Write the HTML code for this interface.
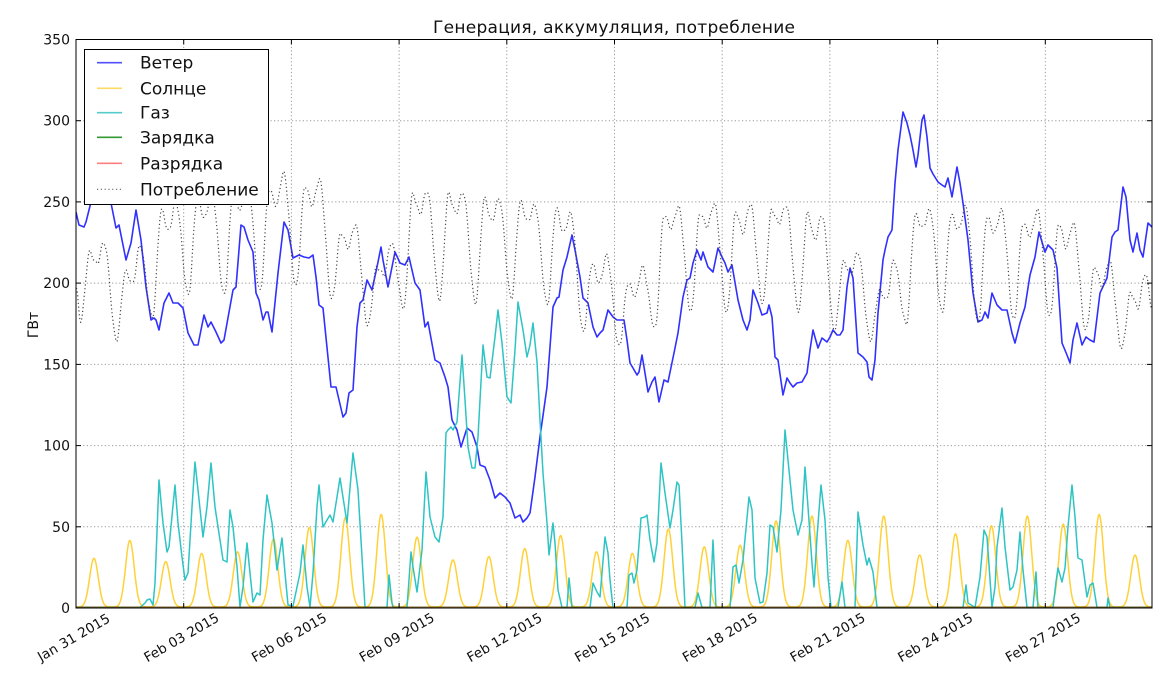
<!DOCTYPE html>
<html><head><meta charset="utf-8"><style>
html,body{margin:0;padding:0;background:#fff;}
svg{display:block;}
text{font-family:"DejaVu Sans","Liberation Sans",sans-serif;fill:#111;}
</style></head><body>
<svg id="s" width="1174" height="675" viewBox="0 0 1174 675" xmlns="http://www.w3.org/2000/svg">
<defs><clipPath id="cp"><rect x="76" y="39.5" width="1076" height="568.5"/></clipPath></defs>
<rect width="1174" height="675" fill="#fff"/>
<text x="614" y="33" font-size="17" text-anchor="middle" textLength="362" lengthAdjust="spacing">Генерация, аккумуляция, потребление</text>
<g stroke="#999" stroke-width="1" stroke-dasharray="1.2,2.4" fill="none">
<line x1="183.7" y1="39.5" x2="183.7" y2="608"/><line x1="291.4" y1="39.5" x2="291.4" y2="608"/><line x1="399.1" y1="39.5" x2="399.1" y2="608"/><line x1="506.8" y1="39.5" x2="506.8" y2="608"/><line x1="614.5" y1="39.5" x2="614.5" y2="608"/><line x1="722.2" y1="39.5" x2="722.2" y2="608"/><line x1="829.9" y1="39.5" x2="829.9" y2="608"/><line x1="937.6" y1="39.5" x2="937.6" y2="608"/><line x1="1045.3" y1="39.5" x2="1045.3" y2="608"/>
<line x1="76" y1="526.8" x2="1152" y2="526.8"/><line x1="76" y1="445.6" x2="1152" y2="445.6"/><line x1="76" y1="364.4" x2="1152" y2="364.4"/><line x1="76" y1="283.1" x2="1152" y2="283.1"/><line x1="76" y1="201.9" x2="1152" y2="201.9"/><line x1="76" y1="120.7" x2="1152" y2="120.7"/>
</g>
<g clip-path="url(#cp)" fill="none" stroke-linejoin="round">
<polyline stroke="#3030ff" stroke-width="1.6" points="76,212 79,225 84,227 86,222 89,210 92,198 97,182 102,176 107,190 111,203 116,228 119,225 126,260 131,243 136,210 141,240 146,287 151,320 154,318 156,320 159,330 164,303 169,293 173,303 178,303 183,308 188,333 194,345 198,345 204,315 208,327 211,322 216,332 221,343 224,340 233,290 236,287 241,225 244,227 248,240 253,252 256,293 259,300 263,320 266,312 268,312 272,332 278,273 284,222 288,230 293,258 299,255 304,257 309,258 313,255 316,277 319,305 323,308 331,387 336,387 343,417 346,413 349,393 353,390 357,327 360,303 363,300 367,280 372,290 377,267 381,247 383,260 388,287 390,277 395,252 400,263 405,265 409,257 415,283 420,290 425,327 428,322 435,360 440,363 445,377 448,387 452,420 457,430 461,447 467,428 472,432 477,447 480,465 485,467 490,480 495,498 500,493 505,497 510,503 515,518 520,515 523,522 527,518 530,513 535,477 540,437 547,387 553,307 557,298 559,297 563,270 567,257 572,235 575,250 580,277 583,298 588,303 593,327 597,337 600,333 603,330 608,310 613,317 617,320 622,320 624,320 627,340 630,363 633,368 637,375 639,372 642,355 645,373 648,392 652,382 655,377 659,402 664,380 668,382 674,353 678,333 683,297 687,280 690,278 693,263 697,250 701,260 703,252 708,267 713,272 718,248 722,257 725,263 728,272 732,265 738,300 743,320 747,330 750,320 753,290 758,303 762,315 767,313 769,305 772,317 775,357 778,360 783,395 787,378 790,383 793,387 797,383 802,382 807,373 810,350 813,330 818,348 822,338 827,342 830,337 833,330 837,335 840,335 843,330 847,287 850,268 853,278 858,353 863,357 867,362 869,377 872,380 875,360 878,313 883,260 885,250 888,237 892,230 895,183 898,150 903,112 907,123 910,135 913,150 916,167 918,155 922,120 924,115 927,137 930,168 933,174 938,182 942,185 945,187 948,178 952,197 957,167 960,183 963,203 968,240 973,293 978,322 982,320 985,312 988,318 992,293 997,305 1002,310 1007,310 1012,333 1015,343 1020,323 1025,307 1030,275 1035,257 1039,232 1045,252 1048,245 1053,250 1057,268 1062,343 1067,355 1070,363 1073,340 1077,323 1082,345 1086,337 1090,340 1094,342 1100,293 1107,278 1112,237 1115,232 1118,230 1123,187 1126,197 1130,240 1133,252 1137,233 1140,250 1143,257 1148,223 1152,227"/>
<path id="solar" stroke="#ffcc22" stroke-width="1.5" stroke-opacity="0.9" d=""/>
<polyline stroke="#2ec4c4" stroke-width="1.5" points="76,607.5 140,607.5 145,603 147,600 150,599 153,605 155,583 159,480 163,523 167,552 169,547 175,485 178,523 182,557 185,580 188,573 192,507 195,462 198,490 203,537 207,507 211,463 215,507 220,540 223,560 227,562 230,510 233,527 237,567 240,607 243,587 247,543 250,573 253,602 257,593 260,595 263,540 267,495 272,523 277,570 282,538 285,573 288,605 293,606 300,573 303,545 307,587 310,607 313,573 317,507 319,485 323,527 327,520 330,515 333,522 337,497 340,478 347,523 353,453 358,490 362,557 365,607.5 387,607.5 389,575 392,603 393,607.5 407,607.5 411,552 413,567 417,592 422,550 426,472 430,517 435,537 439,542 443,517 446,433 448,430 451,427 453,430 457,422 462,355 465,400 468,447 472,468 475,468 478,437 483,345 487,377 490,378 495,337 498,310 502,343 507,397 511,403 515,350 518,302 523,330 527,357 530,345 533,323 537,362 540,420 543,473 547,523 549,555 553,523 555,543 558,590 562,607.5 567,607.5 569,578 572,607.5 590,607.5 593,583 597,592 600,597 605,537 608,553 610,580 613,607.5 627,607.5 629,575 632,573 634,583 637,570 641,518 645,517 647,515 650,540 654,562 657,543 661,463 665,493 670,528 673,510 677,482 679,485 682,543 685,607.5 695,607.5 698,593 702,607.5 710,607.5 713,540 716,607.5 730,607.5 733,567 736,565 739,583 743,560 749,497 752,510 755,578 760,603 763,602 767,573 770,525 773,527 777,552 781,510 785,430 788,460 793,510 798,535 802,520 805,467 808,507 812,563 814,587 817,537 821,485 825,520 828,577 831,607.5 838,607.5 842,582 845,607.5 855,607.5 858,512 863,545 867,565 869,558 873,572 877,607.5 963,607.5 966,585 968,603 975,607.5 980,577 984,530 987,537 992,607.5 995,587 997,547 1002,508 1005,547 1010,590 1013,587 1017,570 1020,532 1023,570 1027,607.5 1033,607.5 1036,572 1038,607.5 1053,607.5 1056,582 1058,568 1062,582 1065,568 1068,527 1072,485 1075,517 1078,558 1082,560 1087,597 1090,585 1093,583 1097,607.5 1107,607.5 1108,598 1110,607.5 1152,607.5"/>
<line x1="76" y1="607.3" x2="1152" y2="607.3" stroke="#008000" stroke-width="1.5" stroke-opacity="0.7"/>
<line x1="76" y1="607.3" x2="1152" y2="607.3" stroke="#ff0000" stroke-width="1.5" stroke-opacity="0.35"/>
<path id="cons" stroke="#444" stroke-width="1.2" stroke-dasharray="1.2,2.6" d=""/>
</g>
<rect x="76" y="39.5" width="1076" height="568.5" fill="none" stroke="#000" stroke-width="1"/>
<g stroke="#000" stroke-width="1">
<line x1="76" y1="608" x2="81" y2="608"/><line x1="76" y1="526.8" x2="81" y2="526.8"/><line x1="76" y1="445.6" x2="81" y2="445.6"/><line x1="76" y1="364.4" x2="81" y2="364.4"/><line x1="76" y1="283.1" x2="81" y2="283.1"/><line x1="76" y1="201.9" x2="81" y2="201.9"/><line x1="76" y1="120.7" x2="81" y2="120.7"/>
<line x1="1147" y1="526.8" x2="1152" y2="526.8"/><line x1="1147" y1="445.6" x2="1152" y2="445.6"/><line x1="1147" y1="364.4" x2="1152" y2="364.4"/><line x1="1147" y1="283.1" x2="1152" y2="283.1"/><line x1="1147" y1="201.9" x2="1152" y2="201.9"/><line x1="1147" y1="120.7" x2="1152" y2="120.7"/>
<line x1="183.7" y1="608" x2="183.7" y2="603"/><line x1="291.4" y1="608" x2="291.4" y2="603"/><line x1="399.1" y1="608" x2="399.1" y2="603"/><line x1="506.8" y1="608" x2="506.8" y2="603"/><line x1="614.5" y1="608" x2="614.5" y2="603"/><line x1="722.2" y1="608" x2="722.2" y2="603"/><line x1="829.9" y1="608" x2="829.9" y2="603"/><line x1="937.6" y1="608" x2="937.6" y2="603"/><line x1="1045.3" y1="608" x2="1045.3" y2="603"/>
<line x1="183.7" y1="39.5" x2="183.7" y2="44.5"/><line x1="291.4" y1="39.5" x2="291.4" y2="44.5"/><line x1="399.1" y1="39.5" x2="399.1" y2="44.5"/><line x1="506.8" y1="39.5" x2="506.8" y2="44.5"/><line x1="614.5" y1="39.5" x2="614.5" y2="44.5"/><line x1="722.2" y1="39.5" x2="722.2" y2="44.5"/><line x1="829.9" y1="39.5" x2="829.9" y2="44.5"/><line x1="937.6" y1="39.5" x2="937.6" y2="44.5"/><line x1="1045.3" y1="39.5" x2="1045.3" y2="44.5"/>
</g>
<g font-size="14" text-anchor="end">
<text x="70" y="613">0</text><text x="70" y="532">50</text><text x="70" y="450.6">100</text><text x="70" y="369.4">150</text><text x="70" y="288.1">200</text><text x="70" y="206.9">250</text><text x="70" y="125.7">300</text><text x="70" y="44.5">350</text>
</g>
<text transform="translate(38,325) rotate(-90)" font-size="14" text-anchor="middle">ГВт</text>
<g font-size="13.5" text-anchor="middle" dominant-baseline="central">
<text transform="translate(74,638) rotate(-30)">Jan 31 2015</text>
<text transform="translate(181.7,638) rotate(-30)">Feb 03 2015</text>
<text transform="translate(289.4,638) rotate(-30)">Feb 06 2015</text>
<text transform="translate(397.1,638) rotate(-30)">Feb 09 2015</text>
<text transform="translate(504.8,638) rotate(-30)">Feb 12 2015</text>
<text transform="translate(612.5,638) rotate(-30)">Feb 15 2015</text>
<text transform="translate(720.2,638) rotate(-30)">Feb 18 2015</text>
<text transform="translate(827.9,638) rotate(-30)">Feb 21 2015</text>
<text transform="translate(935.6,638) rotate(-30)">Feb 24 2015</text>
<text transform="translate(1043.3,638) rotate(-30)">Feb 27 2015</text>
</g>
<rect x="84.5" y="49.5" width="184" height="155" fill="#fff" stroke="#000" stroke-width="1"/>
<g stroke-width="1.6">
<line x1="97" y1="62.7" x2="122" y2="62.7" stroke="#5050ff"/>
<line x1="97" y1="88.3" x2="122" y2="88.3" stroke="#ffd966"/>
<line x1="97" y1="112.7" x2="122" y2="112.7" stroke="#55cccc"/>
<line x1="97" y1="137.3" x2="122" y2="137.3" stroke="#339933"/>
<line x1="97" y1="163.3" x2="122" y2="163.3" stroke="#ff8080"/>
<line x1="97" y1="189.3" x2="122" y2="189.3" stroke="#666" stroke-width="1.2" stroke-dasharray="1.2,2.6"/>
</g>
<g font-size="17">
<text x="140" y="68.7">Ветер</text>
<text x="140" y="94.3">Солнце</text>
<text x="140" y="118.7">Газ</text>
<text x="140" y="143.3">Зарядка</text>
<text x="140" y="169.3">Разрядка</text>
<text x="140" y="195.3">Потребление</text>
</g>
</svg>
<script>
(function(){
var X0=76,DX=35.9,Y0=608,SY=568.5/350;
function px(t){return X0+DX*t;}
function py(v){return Y0-SY*v;}
var D=[[177,219,212,225],[165,207,200,223],[179,245,232,250],[193,252,240,256],[193,256,245,262],[195,258,248,268],[198,260,248,264],[190,231,222,236],[174,210,205,225],[185,255,243,257],[190,255,243,256],[188,252,238,252],[191,250,238,248],[187,246,231,243],[170,212,200,217],[161,200,192,210],[172,242,234,247],[182,243,235,249],[182,244,231,249],[188,245,237,248],[183,243,227,242],[171,213,206,219],[165,195,190,214],[175,242,234,245],[182,242,233,247],[175,241,231,245],[177,237,229,245],[179,237,222,237],[171,210,198,214],[160,194,185,206]];
var k=[[0,197]];
D.forEach(function(r,d){k.push([d+0.13,r[0]],[d+0.38,r[1]],[d+0.58,r[2]],[d+0.78,r[3]]);});
k.push([30,183]);
var p=[];
for(var i=0;i<k.length-1;i++){var t1=k[i][0],v1=k[i][1],t2=k[i+1][0],v2=k[i+1][1];var n=Math.max(2,Math.round((t2-t1)*48));
for(var j=0;j<n;j++){var f=j/n,g=(1-Math.cos(Math.PI*f))/2;var t=t1+(t2-t1)*f,v=v1+(v2-v1)*g+1.2*Math.sin(t*37.1);p.push(px(t).toFixed(1)+","+py(v).toFixed(1));}}
p.push(px(30).toFixed(1)+","+py(183).toFixed(1));
document.getElementById("cons").setAttribute("d","M"+p.join(" L"));
var H=[30,41,28,33,34,42,49,55,57,43,29,31,36,44,34,33,48,37,38,53,56,41,56,32,45,50,56,51,57,32];
var s=[];
for(var x=76;x<=1152.01;x+=0.5){var v=0.6;for(var d=0;d<30;d++){var c=px(d+0.5);var u=(x-c)/4.3;if(Math.abs(u)<6)v+=H[d]*Math.exp(-u*u/2);}s.push(x.toFixed(1)+","+py(v).toFixed(1));}
document.getElementById("solar").setAttribute("d","M"+s.join(" L"));
})();
</script>
</body></html>
